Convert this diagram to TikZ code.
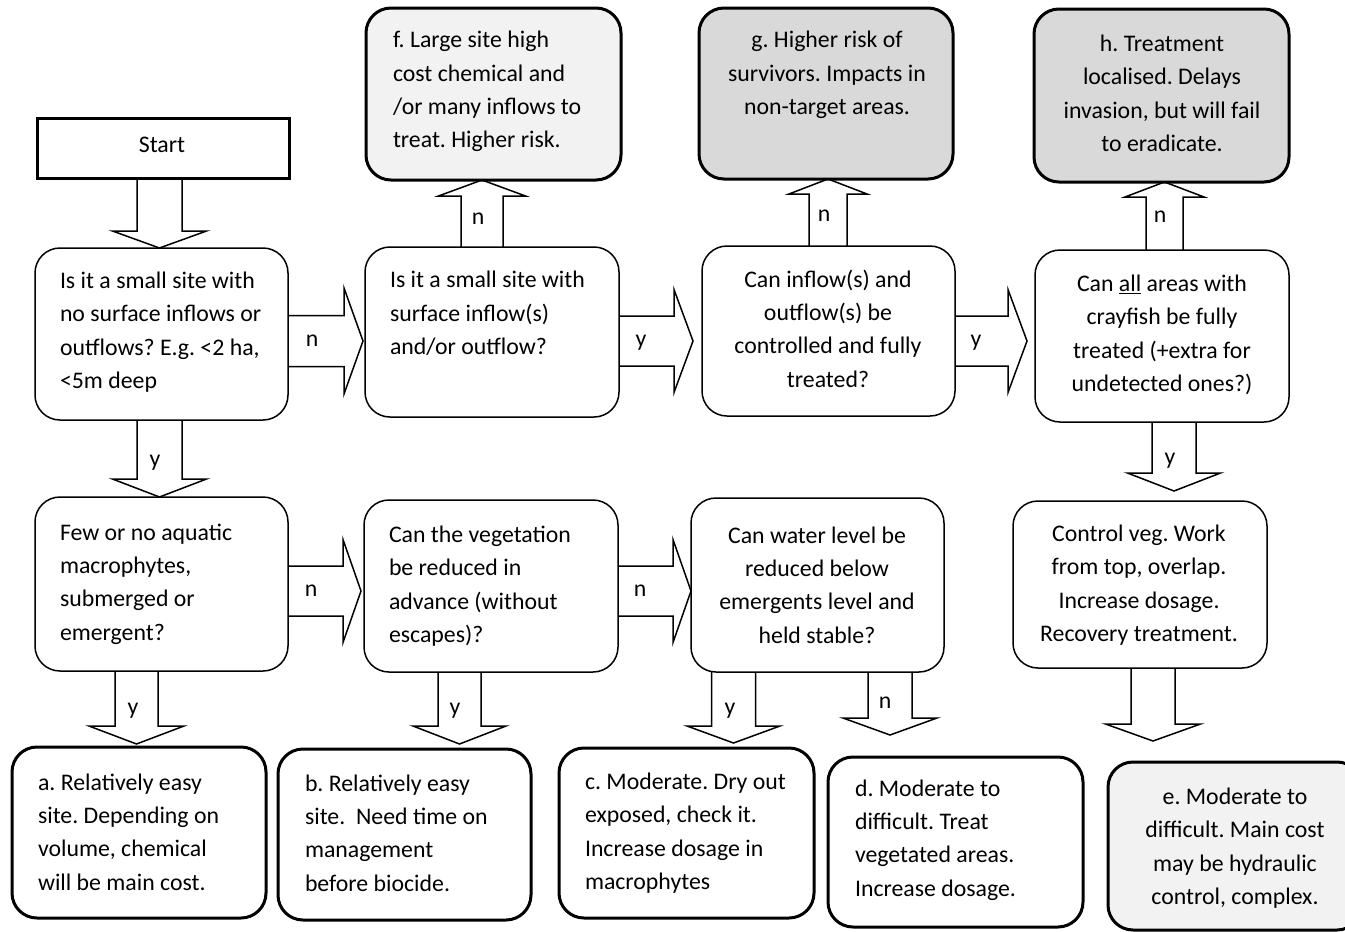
\documentclass[tikz,border=0pt]{standalone}
\usepackage{fontspec}
\setmainfont{Carlito}
\usetikzlibrary{calc}

% Block arrows: source node, target node, centre line, shaft half width,
% head half width, head length, gap between tip and target
\newcommand\arrdown[7]{%
  \draw[blk] let \p1=(#1.south), \p2=(#2.north) in
    (#3-#4,\y1) -- (#3-#4,\y2+#7+#6) -- (#3-#5,\y2+#7+#6) -- (#3,\y2+#7)
    -- (#3+#5,\y2+#7+#6) -- (#3+#4,\y2+#7+#6) -- (#3+#4,\y1);}
\newcommand\arrup[7]{%
  \draw[blk] let \p1=(#1.north), \p2=(#2.south) in
    (#3-#4,\y1) -- (#3-#4,\y2-#7-#6) -- (#3-#5,\y2-#7-#6) -- (#3,\y2-#7)
    -- (#3+#5,\y2-#7-#6) -- (#3+#4,\y2-#7-#6) -- (#3+#4,\y1);}
\newcommand\arrright[7]{%
  \draw[blk] let \p1=(#1.east), \p2=(#2.west) in
    (\x1,#3-#4) -- (\x2-#7-#6,#3-#4) -- (\x2-#7-#6,#3-#5) -- (\x2-#7,#3)
    -- (\x2-#7-#6,#3+#5) -- (\x2-#7-#6,#3+#4) -- (\x1,#3+#4);}

\begin{document}
\frenchspacing
\begin{tikzpicture}[x=1pt,y=1pt,
  every node/.style={font=\fontsize{23.8}{33.4}\selectfont, inner sep=0pt, outer sep=0pt},
  qbox/.style={draw, line width=1.5pt, rounded corners=25pt},
  obox/.style={draw, line width=3pt, rounded corners=25pt},
  startbox/.style={draw, line width=3pt},
  txtl/.style={align=left, anchor=west},
  txtc/.style={align=center},
  blk/.style={draw, line width=1.5pt, line join=miter}
]
\useasboundingbox (0,0) rectangle (1345,-932);
\clip (0,0) rectangle (1345,-932);

% ---- boxes ----
\node[startbox, minimum width=252pt, minimum height=60pt] (start) at (163,-148) {};
\node (startt) at (162,-145) {Start};

\node[qbox, minimum width=253pt, minimum height=172pt] (q1) at (161.5,-334) {};
\node[qbox, minimum width=254pt, minimum height=170pt] (q2) at (492,-332) {};
\node[qbox, minimum width=253pt, minimum height=170pt] (q3) at (828.5,-331) {};
\node[qbox, minimum width=254pt, minimum height=172pt] (q4) at (1162,-336) {};

\node[obox, fill=gray!10, minimum width=255pt, minimum height=172pt] (f) at (493.5,-94) {};
\node[obox, fill=gray!30, minimum width=254pt, minimum height=171pt] (g) at (826,-93.5) {};
\node[obox, fill=gray!30, minimum width=255pt, minimum height=173pt] (h) at (1161.5,-95.5) {};

\node[qbox, minimum width=253pt, minimum height=174pt] (q5) at (161.5,-584) {};
\node[qbox, minimum width=254pt, minimum height=172pt] (q6) at (491,-586) {};
\node[qbox, minimum width=253pt, minimum height=174pt] (q7) at (817.5,-585) {};
\node[qbox, minimum width=254pt, minimum height=167pt] (q8) at (1140,-584.5) {};

\node[obox, minimum width=254pt, minimum height=171pt] (a) at (139,-832.5) {};
\node[obox, minimum width=253pt, minimum height=171pt] (b) at (404.5,-834.5) {};
\node[obox, minimum width=255pt, minimum height=170pt] (c) at (686.5,-833) {};
\node[obox, minimum width=255pt, minimum height=170pt] (d) at (955.5,-842) {};
\node[obox, fill=gray!10, minimum width=254pt, minimum height=168pt] (e) at (1235,-846) {};

% ---- texts ----
\node[txtl] (q1t) at (60,-332) {Is it a small site with\\no surface inflows or\\outflows? E.g. <2 ha,\\<5m deep};
\node[txtl] (q2t) at (390,-313.5) {Is it a small site with\\surface inflow(s)\\and/or outflow?};
\node[txtc] (q3t) at (828,-328.5) {Can inflow(s) and\\outflow(s) be\\controlled and fully\\treated?};
\node[txtc] (q4t) at (1162,-335) {Can \underline{all} areas with\\crayfish be fully\\treated (+extra for\\undetected ones?)};

\node[txtl] (ft) at (393,-91.5) {f. Large site high\\cost chemical and\\/or many inflows to\\treat. Higher risk.};
\node[txtc] (gt) at (827,-75) {g. Higher risk of\\survivors. Impacts in\\non-target areas.};
\node[txtc] (ht) at (1162,-93.5) {h. Treatment\\localised. Delays\\invasion, but will fail\\to eradicate.};

\node[txtl] (q5t) at (60,-584) {Few or no aquatic\\macrophytes,\\submerged or\\emergent?};
\node[txtl] (q6t) at (389,-586) {Can the vegetation\\be reduced in\\advance (without\\escapes)?};
\node[txtc] (q7t) at (817,-585) {Can water level be\\reduced below\\emergents level and\\held stable?};
\node[txtc] (q8t) at (1139,-585) {Control veg. Work\\from top, overlap.\\Increase dosage.\\Recovery treatment.};

\node[txtl] (at) at (38,-832) {a. Relatively easy\\site. Depending on\\volume, chemical\\will be main cost.};
\node[txtl] (bt) at (305,-833) {b. Relatively easy\\site.~ Need time on\\management\\before biocide.};
\node[txtl] (ct) at (585,-833) {c. Moderate. Dry out\\exposed, check it.\\Increase dosage in\\macrophytes};
\node[txtl] (dt) at (855,-840) {d. Moderate to\\difficult. Treat\\vegetated areas.\\Increase dosage.};
\node[txtc] (et) at (1235,-848) {e. Moderate to\\difficult. Main cost\\may be hydraulic\\control, complex.};

% ---- block arrows ----
\arrdown{start}{q1}{159.5}{22.5}{47}{17}{0}
\arrdown{q1}{q5}{159.5}{22.5}{47}{18}{0}
\arrdown{q5}{a}{136.5}{21.5}{47.5}{18}{3}
\arrdown{q6}{b}{459.5}{21.5}{46.5}{18}{5}
\arrdown{q7}{c}{733.5}{22}{46.5}{17}{5}
\arrdown{q7}{d}{890}{22}{47}{17}{22}
\arrdown{q4}{q8}{1174}{22}{46.5}{18}{10}
\arrdown{q8}{e}{1153}{22}{47.5}{17}{21}

\arrup{q2}{f}{482}{21}{43.5}{16}{0}
\arrup{q3}{g}{828}{19}{39}{15}{0}
\arrup{q4}{h}{1164.5}{18.5}{39.5}{15}{0}

\arrright{q1}{q2}{-341}{25.5}{53}{19}{2}
\arrright{q2}{q3}{-341}{25}{51.5}{19}{9}
\arrright{q3}{q4}{-341}{25}{51.5}{19}{8}
\arrright{q5}{q6}{-591}{25}{51.5}{18}{3}
\arrright{q6}{q7}{-591}{25}{51.5}{18}{0}

% ---- arrow labels ----
\node (l1) at (312,-341) {n};
\node (l2) at (641,-343) {y};
\node (l3) at (976,-343) {y};
\node (l4) at (478,-219) {n};
\node (l5) at (824,-216) {n};
\node (l6) at (1160,-217) {n};
\node (l7) at (155,-463) {y};
\node (l8) at (1170,-461) {y};
\node (l9) at (311,-591) {n};
\node (l10) at (640,-591) {n};
\node (l11) at (133,-711) {y};
\node (l12) at (455,-711) {y};
\node (l13) at (730,-711) {y};
\node (l14) at (885,-703) {n};
\end{tikzpicture}
\end{document}
